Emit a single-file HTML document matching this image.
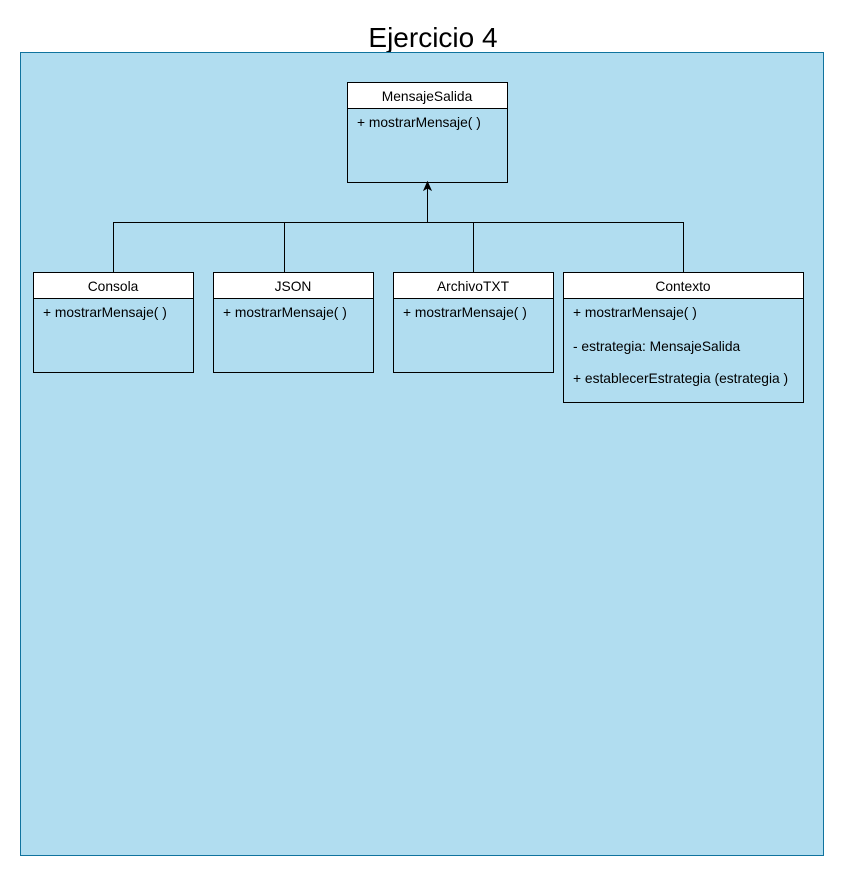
<!DOCTYPE html>
<html><head><style>body{margin:0;background:#fff}svg{display:block}text{font-family:"Liberation Sans",Arial,sans-serif;font-size:13.8px;fill:#000}</style></head>
<body>
<svg width="844" height="876" xmlns="http://www.w3.org/2000/svg">
<text x="433" y="47" text-anchor="middle" style="font-size:28px">Ejercicio 4</text>
<rect x="20.5" y="52.5" width="803" height="803" fill="#b1ddf0" stroke="#10739e"/>
<g stroke="#000" fill="none">
<path d="M113.5 272V222.5H683.5V272M284.5 222V272M473.5 222V272M427.5 222V188"/>
</g>
<path d="M427.5 182l-3.5 8l3.5-2l3.5 2z" fill="#000" stroke="#000"/>
<g stroke="#000">
<rect x="347.5" y="82.5" width="160" height="100" fill="none"/><rect x="347.5" y="82.5" width="160" height="26" fill="#fff"/>
<rect x="33.5" y="272.5" width="160" height="100" fill="none"/><rect x="33.5" y="272.5" width="160" height="26" fill="#fff"/>
<rect x="213.5" y="272.5" width="160" height="100" fill="none"/><rect x="213.5" y="272.5" width="160" height="26" fill="#fff"/>
<rect x="393.5" y="272.5" width="160" height="100" fill="none"/><rect x="393.5" y="272.5" width="160" height="26" fill="#fff"/>
<rect x="563.5" y="272.5" width="240" height="130" fill="none"/><rect x="563.5" y="272.5" width="240" height="26" fill="#fff"/>
</g>
<text x="427" y="101" text-anchor="middle">MensajeSalida</text>
<text x="357" y="127">+ mostrarMensaje( )</text>
<text x="113" y="291" text-anchor="middle">Consola</text>
<text x="43" y="317">+ mostrarMensaje( )</text>
<text x="293" y="291" text-anchor="middle">JSON</text>
<text x="223" y="317">+ mostrarMensaje( )</text>
<text x="473" y="291" text-anchor="middle">ArchivoTXT</text>
<text x="403" y="317">+ mostrarMensaje( )</text>
<text x="683" y="291" text-anchor="middle">Contexto</text>
<text x="573" y="317">+ mostrarMensaje( )</text>
<text x="573" y="351">- estrategia: MensajeSalida</text>
<text x="573" y="383">+ establecerEstrategia (estrategia )</text>
</svg>
</body></html>
